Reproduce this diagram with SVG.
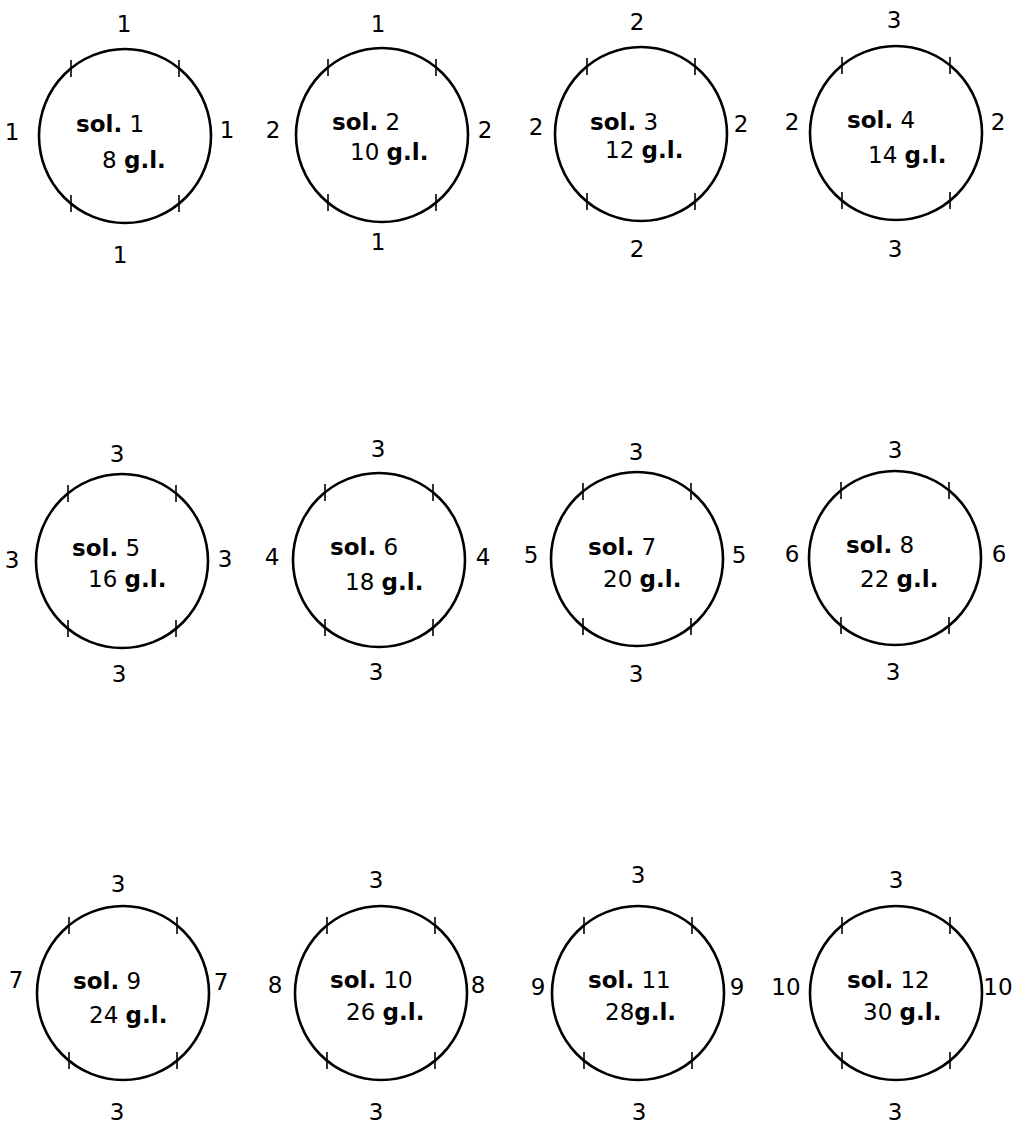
<svg xmlns="http://www.w3.org/2000/svg" width="1023" height="1128" viewBox="0 0 1023 1128">
<style>
.c{fill:none;stroke:#000;stroke-width:2.6}
.t{stroke:#000;stroke-width:1.6}
text{font-family:"DejaVu Sans","Liberation Sans",sans-serif;font-size:23px;fill:#000}
.l{text-anchor:middle}
.b{font-weight:bold}
</style>
<defs>
<g id="ring">
<ellipse class="c" cx="0" cy="0" rx="86" ry="87"/>
<line class="t" x1="-54" y1="-76" x2="-54" y2="-59"/>
<line class="t" x1="54" y1="-76" x2="54" y2="-59"/>
<line class="t" x1="-54" y1="59" x2="-54" y2="76"/>
<line class="t" x1="54" y1="59" x2="54" y2="76"/>
</g>
</defs>
<rect width="1023" height="1128" fill="#fff"/>

<g id="sol1">
<use href="#ring" x="125" y="136"/>
<text class="l" x="124" y="32">1</text>
<text class="l" x="12" y="140">1</text>
<text class="l" x="227" y="138">1</text>
<text class="l" x="120" y="263">1</text>
<text x="76" y="132"><tspan class="b">sol.</tspan> 1</text>
<text x="102" y="168">8 <tspan class="b">g.l.</tspan></text>
</g>

<g id="sol2">
<use href="#ring" x="382" y="135"/>
<text class="l" x="378" y="32">1</text>
<text class="l" x="273" y="138">2</text>
<text class="l" x="485" y="138">2</text>
<text class="l" x="378" y="250">1</text>
<text x="332" y="130"><tspan class="b">sol.</tspan> 2</text>
<text x="350" y="160">10 <tspan class="b">g.l.</tspan></text>
</g>

<g id="sol3">
<use href="#ring" x="641" y="134"/>
<text class="l" x="637" y="30">2</text>
<text class="l" x="536" y="135">2</text>
<text class="l" x="741" y="132">2</text>
<text class="l" x="637" y="257">2</text>
<text x="590" y="130"><tspan class="b">sol.</tspan> 3</text>
<text x="605" y="158">12 <tspan class="b">g.l.</tspan></text>
</g>

<g id="sol4">
<use href="#ring" x="896" y="133"/>
<text class="l" x="894" y="28">3</text>
<text class="l" x="792" y="130">2</text>
<text class="l" x="998" y="130">2</text>
<text class="l" x="895" y="257">3</text>
<text x="847" y="128"><tspan class="b">sol.</tspan> 4</text>
<text x="868" y="163">14 <tspan class="b">g.l.</tspan></text>
</g>

<g id="sol5">
<use href="#ring" x="122" y="561"/>
<text class="l" x="117" y="462">3</text>
<text class="l" x="12" y="568">3</text>
<text class="l" x="225" y="567">3</text>
<text class="l" x="119" y="682">3</text>
<text x="72" y="556"><tspan class="b">sol.</tspan> 5</text>
<text x="88" y="587">16 <tspan class="b">g.l.</tspan></text>
</g>

<g id="sol6">
<use href="#ring" x="379" y="560"/>
<text class="l" x="378" y="457">3</text>
<text class="l" x="272" y="565">4</text>
<text class="l" x="483" y="565">4</text>
<text class="l" x="376" y="680">3</text>
<text x="330" y="555"><tspan class="b">sol.</tspan> 6</text>
<text x="345" y="590">18 <tspan class="b">g.l.</tspan></text>
</g>

<g id="sol7">
<use href="#ring" x="637" y="559"/>
<text class="l" x="636" y="460">3</text>
<text class="l" x="531" y="563">5</text>
<text class="l" x="739" y="563">5</text>
<text class="l" x="636" y="682">3</text>
<text x="588" y="555"><tspan class="b">sol.</tspan> 7</text>
<text x="603" y="587">20 <tspan class="b">g.l.</tspan></text>
</g>

<g id="sol8">
<use href="#ring" x="895" y="558"/>
<text class="l" x="895" y="458">3</text>
<text class="l" x="792" y="562">6</text>
<text class="l" x="999" y="562">6</text>
<text class="l" x="893" y="680">3</text>
<text x="846" y="553"><tspan class="b">sol.</tspan> 8</text>
<text x="860" y="587">22 <tspan class="b">g.l.</tspan></text>
</g>

<g id="sol9">
<use href="#ring" x="123" y="993"/>
<text class="l" x="118" y="892">3</text>
<text class="l" x="16" y="988">7</text>
<text class="l" x="221" y="990">7</text>
<text class="l" x="117" y="1120">3</text>
<text x="73" y="989"><tspan class="b">sol.</tspan> 9</text>
<text x="89" y="1023">24 <tspan class="b">g.l.</tspan></text>
</g>

<g id="sol10">
<use href="#ring" x="381" y="993"/>
<text class="l" x="376" y="888">3</text>
<text class="l" x="275" y="993">8</text>
<text class="l" x="478" y="993">8</text>
<text class="l" x="376" y="1120">3</text>
<text x="330" y="988"><tspan class="b">sol.</tspan> 10</text>
<text x="346" y="1020">26 <tspan class="b">g.l.</tspan></text>
</g>

<g id="sol11">
<use href="#ring" x="638" y="993"/>
<text class="l" x="638" y="883">3</text>
<text class="l" x="538" y="995">9</text>
<text class="l" x="737" y="995">9</text>
<text class="l" x="639" y="1120">3</text>
<text x="588" y="988"><tspan class="b">sol.</tspan> 11</text>
<text x="605" y="1020">28<tspan class="b">g.l.</tspan></text>
</g>

<g id="sol12">
<use href="#ring" x="896" y="993"/>
<text class="l" x="896" y="888">3</text>
<text class="l" x="786" y="995">10</text>
<text class="l" x="998" y="995">10</text>
<text class="l" x="895" y="1120">3</text>
<text x="847" y="988"><tspan class="b">sol.</tspan> 12</text>
<text x="863" y="1020">30 <tspan class="b">g.l.</tspan></text>
</g>
</svg>
